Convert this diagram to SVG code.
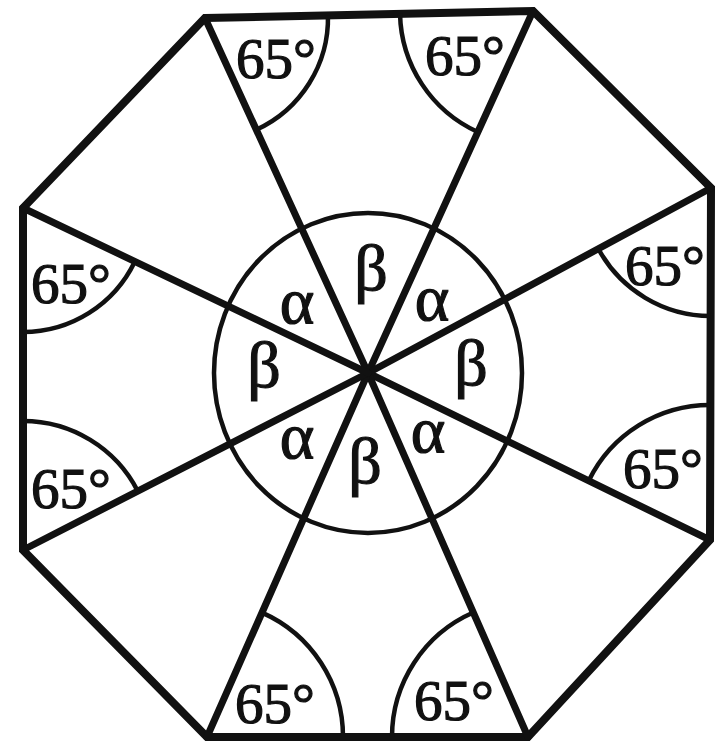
<svg xmlns="http://www.w3.org/2000/svg" width="717" height="748" viewBox="0 0 717 748">
<style>
.edge{fill:none;stroke:#111;stroke-width:8;stroke-linejoin:miter}
.spoke{stroke:#111;stroke-width:7;stroke-linecap:round}
.arc{fill:none;stroke:#111;stroke-width:4.5}
.deg{font-family:"Liberation Serif","DejaVu Serif",serif;font-size:57px;fill:#111;stroke:#111;stroke-width:1.2;text-anchor:middle}
.gr{font-family:"Liberation Serif","DejaVu Serif",serif;font-size:66px;fill:#111;stroke:#111;stroke-width:1.2;text-anchor:middle}
</style>
<rect width="717" height="748" fill="#fff"/>
<g id="octagon">
<polygon class="edge" points="205,18 533,11 711,188 710,540 528,737 207,737 23,550 23,208"/>
</g>
<g id="connectors">
<line class="spoke" x1="368" y1="373" x2="205" y2="18"/>
<line class="spoke" x1="368" y1="373" x2="533" y2="11"/>
<line class="spoke" x1="368" y1="373" x2="711" y2="188"/>
<line class="spoke" x1="368" y1="373" x2="710" y2="540"/>
<line class="spoke" x1="368" y1="373" x2="528" y2="737"/>
<line class="spoke" x1="368" y1="373" x2="207" y2="737"/>
<line class="spoke" x1="368" y1="373" x2="23" y2="550"/>
<line class="spoke" x1="368" y1="373" x2="23" y2="208"/>
</g>
<g id="circle">
<ellipse class="arc" cx="368" cy="373" rx="154" ry="160"/>
</g>
<g id="angle-TL">
<path class="arc" d="M327.97,15.38 A123,123 0 0 1 256.32,129.78"/>
<text class="deg" x="276" y="78">65°</text>
</g>
<g id="angle-TR">
<path class="arc" d="M400.03,13.84 A133,133 0 0 0 477.84,132.02"/>
<text class="deg" x="465" y="75">65°</text>
</g>
<g id="angle-RT">
<path class="arc" d="M710.64,316 A128,128 0 0 1 598.34,248.76"/>
<text class="deg" x="665" y="285">65°</text>
</g>
<g id="angle-RB">
<path class="arc" d="M710.38,405 A135,135 0 0 0 588.69,480.76"/>
<text class="deg" x="663" y="488">65°</text>
</g>
<g id="angle-BR">
<path class="arc" d="M392,737 A136,136 0 0 1 473.27,612.5"/>
<text class="deg" x="454" y="720">65°</text>
</g>
<g id="angle-BL">
<path class="arc" d="M343,737 A136,136 0 0 0 262.01,612.62"/>
<text class="deg" x="275" y="723">65°</text>
</g>
<g id="angle-LB">
<path class="arc" d="M23,421 A129,129 0 0 1 137.78,491.11"/>
<text class="deg" x="71" y="508">65°</text>
</g>
<g id="angle-LT">
<path class="arc" d="M23,332 A124,124 0 0 0 134.86,261.5"/>
<text class="deg" x="71" y="303">65°</text>
</g>
<g id="center-labels">
<text class="gr" x="371" y="290">β</text>
<text class="gr" x="297" y="323">α</text>
<text class="gr" x="432" y="320">α</text>
<text class="gr" x="264" y="387">β</text>
<text class="gr" x="471" y="385">β</text>
<text class="gr" x="297" y="458">α</text>
<text class="gr" x="428" y="452">α</text>
<text class="gr" x="365" y="483">β</text>
</g>
</svg>
